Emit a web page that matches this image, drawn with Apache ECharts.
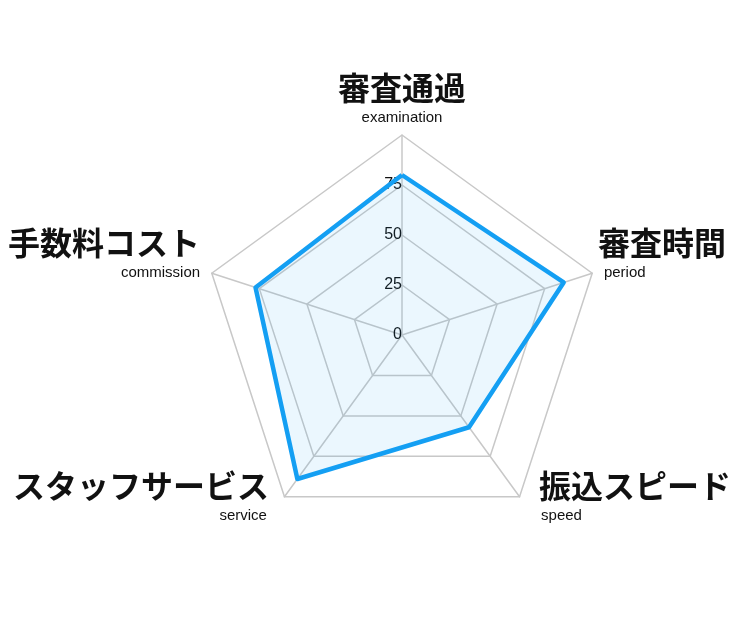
<!DOCTYPE html>
<html>
<head>
<meta charset="utf-8">
<script src="https://cdn.jsdelivr.net/npm/echarts@6/dist/echarts.min.js"></script>
<style>
  html, body { margin: 0; padding: 0; background: #fff; }
  #radarChart { width: 750px; height: 625px; }
</style>
</head>
<body>
<div id="radarChart"></div>
<script>
// order follows echarts radar (counter-clockwise from the top)
var indicatorNames = ['審査通過', '手数料コスト', 'スタッフサービス', '振込スピード', '審査時間'];
var indicatorSubs = ['examination', 'commission', 'service', 'speed', 'period'];
var indicatorMax = 100;
var scoreValues = [80, 77, 89, 57, 85];

var lineColor = '#149ff3';
var jpFont = '"Noto Sans CJK JP", sans-serif';
var enFont = '"Liberation Sans", Arial, sans-serif';

// per-label nudges [top, right, bottom, left] and an empty spacer line below
var jpPads = [[0, 0, 0, 0], [0, 6, 0, 0], [0, 12, 0, 0], [0, 0, 0, 16], [0, 0, 0, 0]];
var enPads = [[0, 0, 0, 0], [0, 6, 0, 0], [0, 14, 0, 0], [0, 0, 0, 18], [0, 0, 0, 6]];
var spacerHeights = [0, 34, 10, 10, 34];

var indicators = indicatorNames.map(function (name, i) {
  var item = { name: name, max: indicatorMax };
  if (i === 0) {
    item.axisLabel = { show: true };
  }
  return item;
});

var rich = {};
indicatorNames.forEach(function (name, i) {
  rich['jp' + i] = {
    fontFamily: jpFont,
    fontSize: 32,
    fontWeight: 'bold',
    color: '#111',
    lineHeight: 38,
    padding: jpPads[i]
  };
  rich['en' + i] = {
    fontFamily: enFont,
    fontSize: 15,
    color: '#111',
    lineHeight: 22,
    padding: enPads[i]
  };
  rich['sp' + i] = {
    fontSize: 1,
    lineHeight: spacerHeights[i]
  };
});

var chart = echarts.init(document.getElementById('radarChart'));

var option = {
  animation: false,
  radar: {
    center: [402, 335],
    radius: 200,
    startAngle: 90,
    splitNumber: 4,
    shape: 'polygon',
    indicator: indicators,
    nameGap: 6,
    axisName: {
      formatter: function (name) {
        var idx = indicatorNames.indexOf(name);
        var text = '{jp' + idx + '|' + name + '}\n{en' + idx + '|' + indicatorSubs[idx] + '}';
        if (spacerHeights[idx] > 0) {
          text += '\n{sp' + idx + '| }';
        }
        return text;
      },
      rich: rich
    },
    axisLine: { lineStyle: { color: '#c8c8c8', width: 1.5 } },
    splitLine: { lineStyle: { color: '#c8c8c8', width: 1.5 } },
    splitArea: { show: false },
    axisLabel: {
      show: false,
      margin: 0,
      fontFamily: enFont,
      fontSize: 16,
      color: '#111',
      formatter: function (v) {
        return v >= indicatorMax ? '' : v;
      }
    }
  },
  series: [{
    type: 'radar',
    symbol: 'none',
    lineStyle: { color: lineColor, width: 4.5 },
    areaStyle: { color: 'rgba(20,159,243,0.12)' },
    data: [{ value: scoreValues, name: 'score' }]
  }]
};

chart.setOption(option);
</script>
</body>
</html>
